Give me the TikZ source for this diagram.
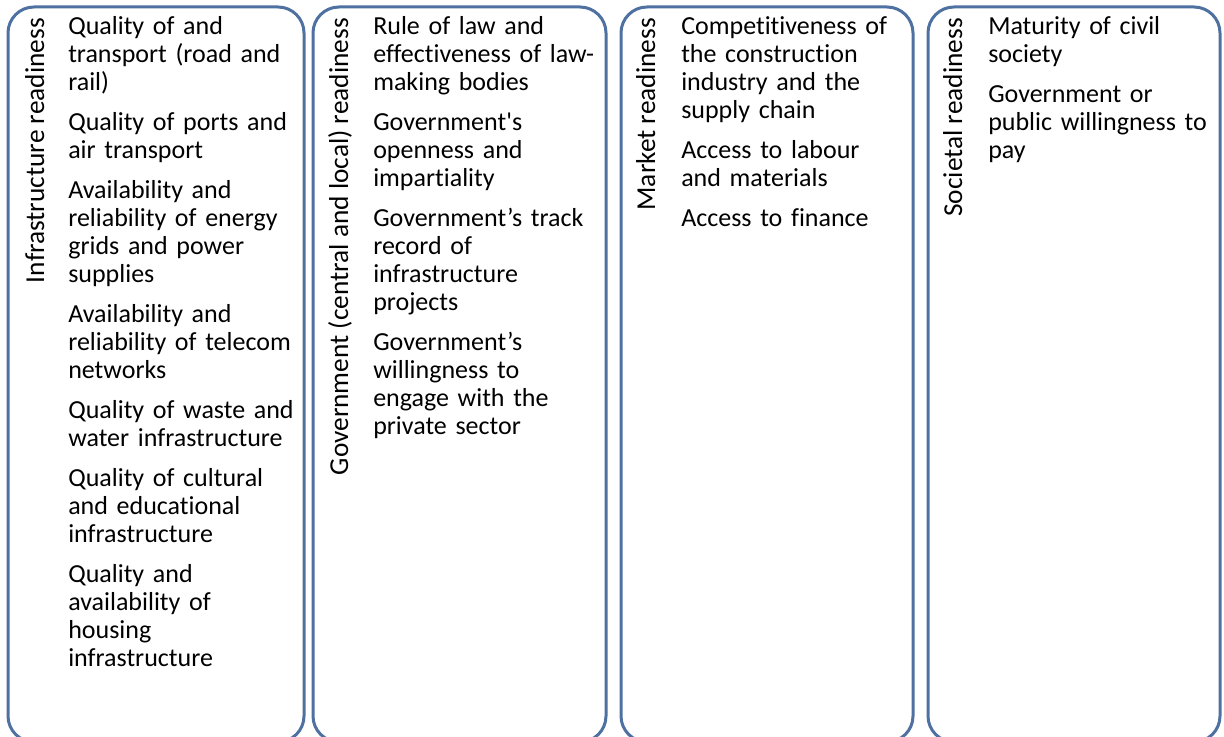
\documentclass[tikz,border=0pt]{standalone}
\usepackage{fontspec}
\newfontfamily\carl{Carlito}[Ligatures=NoCommon]
\definecolor{panelblue}{RGB}{79,113,162}
\begin{document}
\begin{tikzpicture}[x=0.75pt,y=-0.75pt,
  panel/.style={draw=panelblue,line width=2.25pt,rounded corners=19.5pt},
  heading/.style={rotate=90,anchor=base east,inner sep=0pt,
    font=\carl\fontsize{20.5}{22}\selectfont},
  items/.style={anchor=base west,inner sep=0pt,text width=250pt,align=left,
    font=\carl\fontsize{19.5}{21}\selectfont}]
\useasboundingbox (0,0) rectangle (1224,737);
\clip (0,0) rectangle (1224,737);
\fill[white] (0,0) rectangle (1224,737);

% four category panels, running past the lower edge
\draw[panel] (8,7) rectangle (304,742);
\draw[panel] (313,7) rectangle (606,742);
\draw[panel] (621,7) rectangle (913,742);
\draw[panel] (928,7) rectangle (1220,742);

% vertical headings
\node[heading] (t1) at (44,18) {Infrastructure readiness};
\node[heading] (t2) at (348,18) {Government (central and local) readiness};
\node[heading] (t3) at (655,18) {Market readiness};
\node[heading] (t4) at (962,18) {Societal readiness};

% criteria lists
\node[items] (c1) at (68,35) {Quality of and\\ transport (road and\\ rail)\\[9pt]
Quality of ports and\\ air transport\\[9pt]
Availability and\\ reliability of energy\\ grids and power\\ supplies\\[9pt]
Availability and\\ reliability of telecom\\ networks\\[9pt]
Quality of waste and\\ water infrastructure\\[9pt]
Quality of cultural\\ and educational\\ infrastructure\\[9pt]
Quality and\\ availability of\\ housing\\ infrastructure};

\node[items] (c2) at (373,35) {Rule of law and\\ effectiveness of law-\\ making bodies\\[9pt]
Government's\\ openness and\\ impartiality\\[9pt]
Government’s track\\ record of\\ infrastructure\\ projects\\[9pt]
Government’s\\ willingness to\\ engage with the\\ private sector};

\node[items] (c3) at (681,35) {Competitiveness of\\ the construction\\ industry and the\\ supply chain\\[9pt]
Access to labour\\ and materials\\[9pt]
Access to finance};

\node[items] (c4) at (988,35) {Maturity of civil\\ society\\[9pt]
Government or\\ public willingness to\\ pay};
\end{tikzpicture}
\end{document}
